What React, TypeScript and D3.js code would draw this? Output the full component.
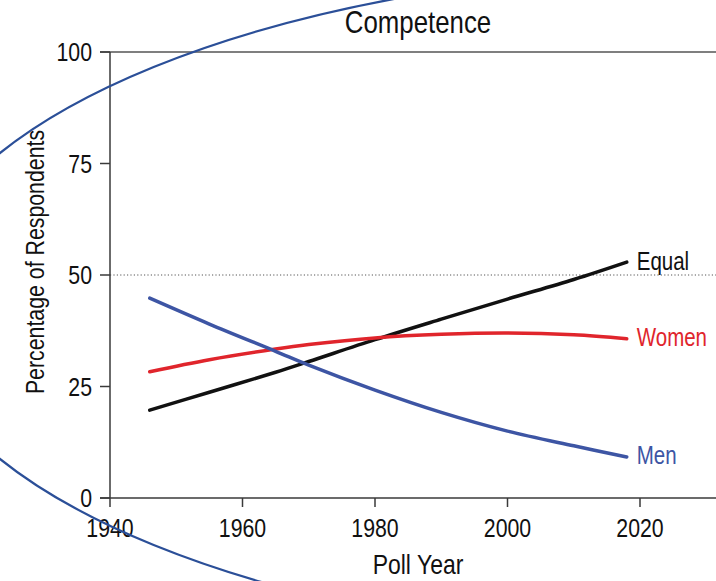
import React from "react";
import * as d3 from "d3";

const years = [1946, 1955, 1965, 1970, 1980, 1990, 2000, 2010, 2018];
const menValues = [44.8, 39.0, 32.9, 29.8, 24.2, 19.2, 15.0, 11.7, 9.2];
const womenValues = [28.3, 31.0, 33.4, 34.4, 35.9, 36.7, 37.0, 36.6, 35.7];
const equalValues = [19.7, 23.7, 28.2, 30.6, 35.5, 40.1, 44.6, 49.0, 52.9];
const seriesNames = ["Equal", "Women", "Men"];
const yTicks = [0, 25, 50, 75, 100];
const xTicks = [1940, 1960, 1980, 2000, 2020];
const referenceValue = 50;

const W = 716;
const H = 581;
const FONT = "'Liberation Sans', Arial, sans-serif";
const NARROW = 0.82;

const colors: Record<string, string> = {
  Equal: "#111111",
  Women: "#e0252c",
  Men: "#3d55a4",
};

function T(props: {
  x: number;
  y: number;
  size: number;
  anchor?: "start" | "middle" | "end";
  fill?: string;
  dy?: string;
  rotate?: number;
  children: React.ReactNode;
}) {
  const { x, y, size, anchor = "start", fill = "#111", dy, rotate = 0, children } = props;
  return (
    <g transform={`translate(${x},${y}) rotate(${rotate}) scale(${NARROW},1)`}>
      <text x={0} y={0} dy={dy} textAnchor={anchor} fontFamily={FONT} fontSize={size} fill={fill}>
        {children}
      </text>
    </g>
  );
}

export default function App() {
  const x = d3.scaleLinear().domain([1940, 2020]).range([110, 640]);
  const y = d3.scaleLinear().domain([0, 100]).range([498, 52]);
  const valuesBy: Record<string, number[]> = {
    Equal: equalValues,
    Women: womenValues,
    Men: menValues,
  };
  const line = d3
    .line<[number, number]>()
    .x((d) => x(d[0]))
    .y((d) => y(d[1]))
    .curve(d3.curveCatmullRom.alpha(0.5));

  const axisColor = "#3a3a3a";

  return (
    <div style={{ position: "absolute", left: 0, top: 0 }}>
      <svg width={W} height={H} style={{ display: "block", background: "#fff" }}>
        <T x={418} y={33} size={31.5} anchor="middle">
          Competence
        </T>
        <line
          x1={x(1940)}
          x2={W}
          y1={y(referenceValue)}
          y2={y(referenceValue)}
          stroke="#555"
          strokeWidth={1}
          strokeDasharray="1.2,2.2"
        />
        <line x1={100} x2={W} y1={y(100)} y2={y(100)} stroke="#555" strokeWidth={1.5} />
        <line x1={x(1940)} x2={x(1940)} y1={y(100)} y2={y(0)} stroke={axisColor} strokeWidth={1.5} />
        {yTicks.map((t) => (
          <g key={"y" + t}>
            <line x1={100} x2={x(1940)} y1={y(t)} y2={y(t)} stroke={axisColor} strokeWidth={1.5} />
            <T x={92} y={y(t)} dy="0.36em" anchor="end" size={26}>
              {t}
            </T>
          </g>
        ))}
        <line x1={100} x2={W} y1={y(0)} y2={y(0)} stroke={axisColor} strokeWidth={1.5} />
        {xTicks.map((t) => (
          <g key={"x" + t}>
            <line x1={x(t)} x2={x(t)} y1={y(0)} y2={y(0) + 9} stroke={axisColor} strokeWidth={1.5} />
            <T x={x(t)} y={537} anchor="middle" size={26}>
              {t}
            </T>
          </g>
        ))}
        <T x={418} y={574} anchor="middle" size={28}>
          Poll Year
        </T>
        <T x={44} y={262} rotate={-90} anchor="middle" size={26}>
          Percentage of Respondents
        </T>
        {seriesNames.map((name) => {
          const pts: [number, number][] = years.map((yr, i) => [yr, valuesBy[name][i]]);
          const last = pts[pts.length - 1];
          return (
            <g key={name}>
              <path
                d={line(pts) || ""}
                fill="none"
                stroke={colors[name]}
                strokeWidth={3.5}
                strokeLinecap="round"
              />
              <T x={x(last[0]) + 10} y={y(last[1])} dy="0.3em" size={25} fill={colors[name]}>
                {name}
              </T>
            </g>
          );
        })}
        <ellipse cx={742} cy={306} rx={832} ry={338} fill="none" stroke="#2b4f98" strokeWidth={2.2} />
      </svg>
    </div>
  );
}
